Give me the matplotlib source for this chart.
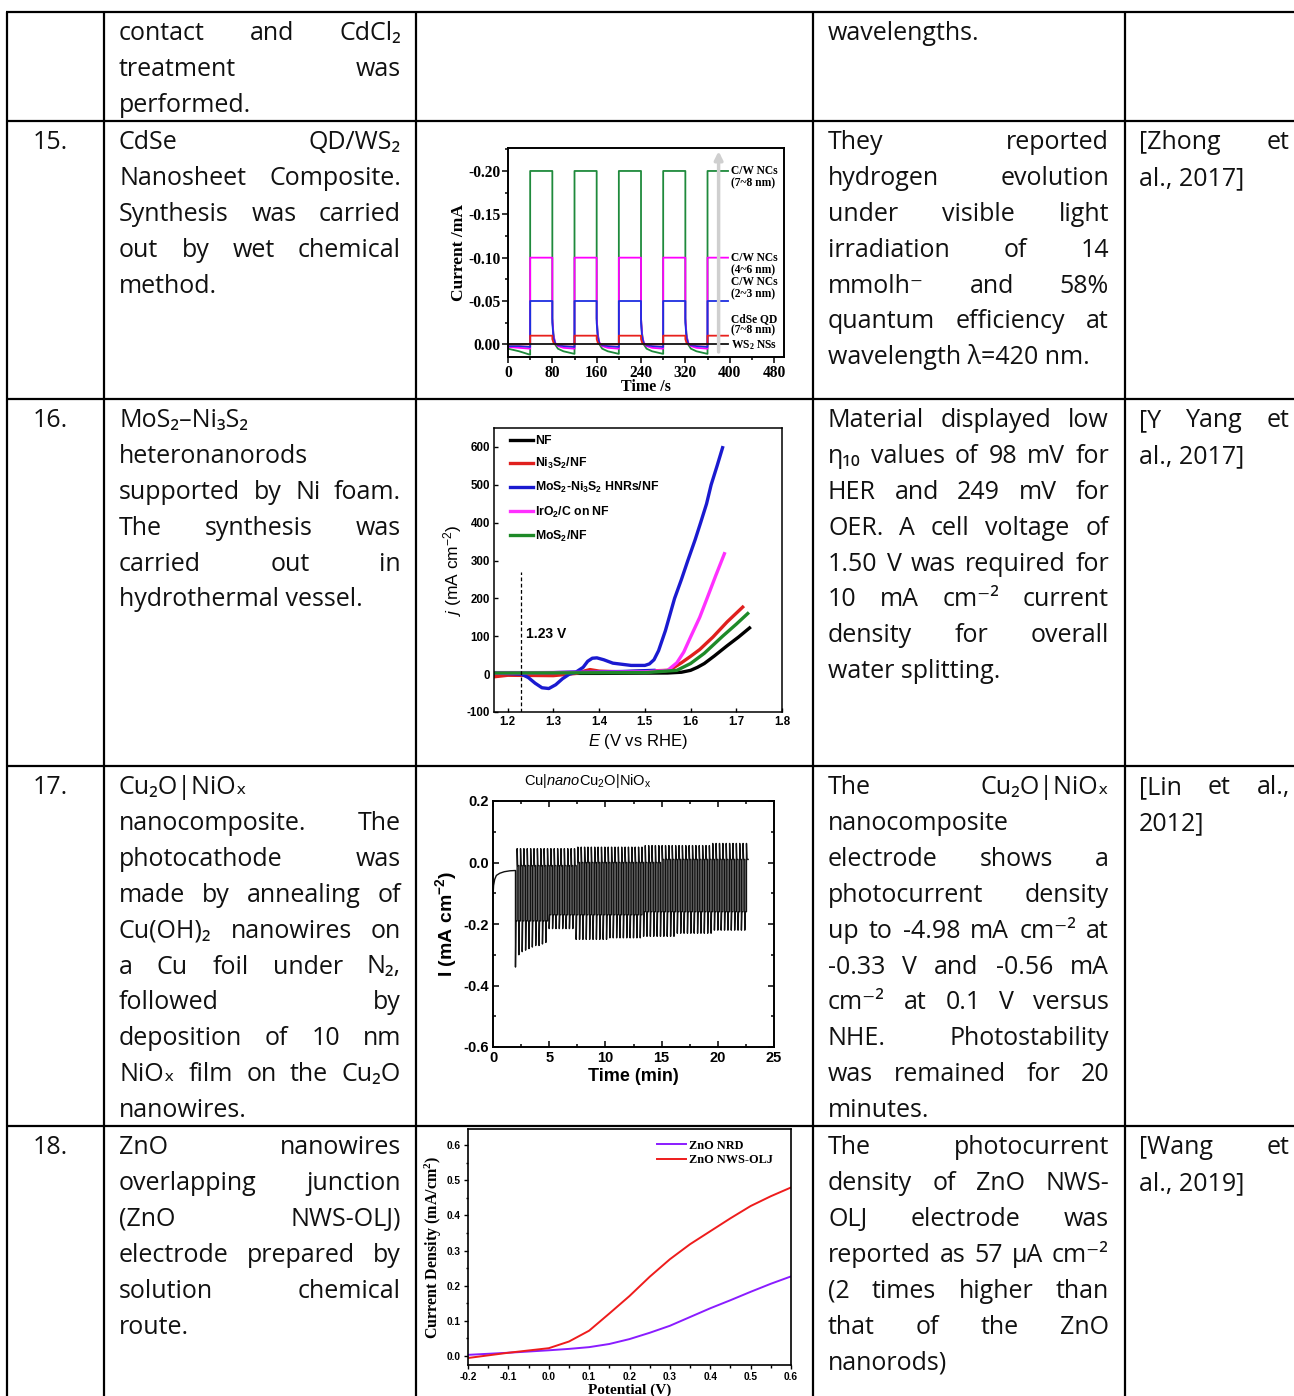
import numpy as np
import matplotlib
matplotlib.use("Agg")
import matplotlib.pyplot as plt
from matplotlib.ticker import MultipleLocator, FormatStrFormatter

plt.rcParams['axes.unicode_minus'] = False
plt.rcParams['mathtext.fontset'] = 'custom'
plt.rcParams['mathtext.rm'] = 'Liberation Sans'
plt.rcParams['mathtext.it'] = 'Liberation Sans:italic'
plt.rcParams['mathtext.bf'] = 'Liberation Sans:bold'
plt.rcParams['mathtext.default'] = 'regular'

# ---------------- table text ----------------
row_nums = ['', '15.', '16.', '17.', '18.']
materials = [
    ['contact and CdCl₂', 'treatment was', 'performed.'],
    ['CdSe QD/WS₂', 'Nanosheet Composite.', 'Synthesis was carried',
     'out by wet chemical', 'method.'],
    ['MoS₂–Ni₃S₂', 'heteronanorods', 'supported by Ni foam.',
     'The synthesis was', 'carried out in', 'hydrothermal vessel.'],
    ['Cu₂O|NiOₓ', 'nanocomposite. The', 'photocathode was',
     'made by annealing of', 'Cu(OH)₂ nanowires on', 'a Cu foil under N₂,',
     'followed by', 'deposition of 10 nm', 'NiOₓ film on the Cu₂O', 'nanowires.'],
    ['ZnO nanowires', 'overlapping junction', '(ZnO NWS-OLJ)', 'electrode prepared by',
     'solution chemical', 'route.'],
]
findings = [
    ['wavelengths.'],
    ['They reported', 'hydrogen evolution', 'under visible light', 'irradiation of 14',
     'mmolh⁻ and 58%', 'quantum efficiency at', 'wavelength λ=420 nm.'],
    ['Material displayed low', 'η₁₀ values of 98 mV for', 'HER and 249 mV for',
     'OER. A cell voltage of', '1.50 V was required for', '10 mA cm⁻² current',
     'density for overall', 'water splitting.'],
    ['The Cu₂O|NiOₓ', 'nanocomposite', 'electrode shows a', 'photocurrent density',
     'up to -4.98 mA cm⁻² at', '-0.33 V and -0.56 mA', 'cm⁻² at 0.1 V versus',
     'NHE. Photostability', 'was remained for 20', 'minutes.'],
    ['The photocurrent', 'density of ZnO NWS-', 'OLJ electrode was',
     'reported as 57 µA cm⁻²', '(2 times higher than', 'that of the ZnO', 'nanorods)'],
]
refs = [[], ['[Zhong et', 'al., 2017]'], ['[Y Yang et', 'al., 2017]'],
        ['[Lin et al.,', '2012]'], ['[Wang et', 'al., 2019]']]

# ---------------- chart 15: CdSe QD/WS2 chopped current ----------------
cd_on = [40, 120, 200, 280, 360]
cd_off = [80, 160, 240, 320, 397]
cd_start_t = [0, 20, 40]
cd_tail_dt = [0, 2, 5, 10, 20, 40]
cd_names = ['C/W NCs\n(7~8 nm)', 'C/W NCs\n(4~6 nm)', 'C/W NCs\n(2~3 nm)',
            'CdSe QD\n(7~8 nm)', 'WS$_2$ NSs']
cd_colors = ['#1f8a3c', '#ff00ff', '#1c2ee0', '#e8201c', '#111111']
cd_level_on = [-0.20, -0.10, -0.05, -0.01, 0.0]
cd_start = [[0.005, 0.008, 0.012], [0.003, 0.004, 0.005], [0.002, 0.002, 0.003],
            [0.0, 0.0, 0.0], [0.0, 0.0, 0.0]]
cd_tail = [[-0.03, -0.012, 0.0, 0.005, 0.008, 0.011],
           [-0.03, -0.01, -0.002, 0.002, 0.004, 0.005],
           [-0.025, -0.008, -0.001, 0.001, 0.002, 0.003],
           [-0.006, -0.002, 0.0, 0.0, 0.0, 0.0],
           [0.0, 0.0, 0.0, 0.0, 0.0, 0.0]]
cd_label_y = [-0.200, -0.100, -0.072, -0.030, -0.001]

# ---------------- chart 16: MoS2-Ni3S2 polarisation ----------------
nf_E = [1.17, 1.40, 1.55, 1.58, 1.60, 1.615, 1.63, 1.652, 1.68, 1.705, 1.729]
nf_j = [2, 2, 3, 5, 10, 18, 28, 48, 75, 98, 122]
ni_E = [1.17, 1.20, 1.30, 1.35, 1.37, 1.38, 1.40, 1.45, 1.55, 1.56, 1.58, 1.60, 1.62,
        1.649, 1.68, 1.714]
ni_j = [-7, -3, -4, 2, 9, 12, 8, 6, 10, 15, 30, 47, 65, 98, 138, 177]
hnr_E = [1.17, 1.30, 1.35, 1.365, 1.375, 1.385, 1.395, 1.41, 1.43, 1.47, 1.50, 1.51,
         1.52, 1.53, 1.545, 1.565, 1.58, 1.594, 1.61, 1.622, 1.635, 1.645, 1.658, 1.67]
hnr_j = [4, 4, 6, 18, 34, 42, 43, 38, 29, 23, 23, 27, 38, 62, 115, 200, 250, 300, 355,
         400, 450, 500, 550, 598]
hnr_back_E = [1.52, 1.45, 1.40, 1.35, 1.335, 1.32, 1.305, 1.29, 1.275, 1.26, 1.245, 1.23, 1.17]
hnr_back_j = [10, 7, 6, 5, 0, -12, -28, -38, -36, -24, -9, 0, 3]
iro_E = [1.17, 1.50, 1.55, 1.57, 1.585, 1.60, 1.62, 1.636, 1.655, 1.674]
iro_j = [3, 6, 10, 30, 58, 98, 150, 200, 260, 318]
mos_E = [1.17, 1.50, 1.57, 1.60, 1.63, 1.67, 1.70, 1.725]
mos_j = [3, 4, 10, 28, 55, 100, 132, 160]

# ---------------- chart 17: Cu|nanoCu2O|NiOx chopped photocurrent ----------------
cu_t0 = [0.0, 0.05, 0.15, 0.3, 0.6, 1.0, 1.5, 2.0]
cu_i0 = [-0.11, -0.075, -0.055, -0.042, -0.035, -0.03, -0.027, -0.026]
cu_chop_start = 2.0
cu_chop_period = 0.3
cu_down = ([-0.34, -0.30, -0.29, -0.285, -0.28, -0.275, -0.27, -0.27, -0.265, -0.26]
           + [-0.215] * 8 + [-0.25] * 10 + [-0.245] * 10 + [-0.24] * 10
           + [-0.23] * 11 + [-0.22] * 10)
cu_up = [0.045] * 18 + [0.05] * 20 + [0.055] * 20 + [0.062] * 11
cu_light = [-0.19] * 10 + [-0.17] * 28 + [-0.16] * 31
cu_dark = [-0.01] * 18 + [0.0] * 25 + [0.01] * 26

# ---------------- chart 18: ZnO LSV ----------------
zn_V = [-0.2, -0.1, 0.0, 0.05, 0.1, 0.15, 0.2, 0.25, 0.3, 0.35, 0.4, 0.45, 0.5, 0.55, 0.6]
nrd_j = [0.002, 0.008, 0.015, 0.019, 0.024, 0.033, 0.047, 0.065, 0.085, 0.11,
         0.135, 0.158, 0.182, 0.205, 0.226]
olj_j = [-0.007, 0.008, 0.021, 0.04, 0.071, 0.12, 0.17, 0.225, 0.275, 0.318,
         0.355, 0.392, 0.427, 0.455, 0.48]

W, H = 1294, 1396
fig = plt.figure(figsize=(W / 100, H / 100), dpi=100)
tab = fig.add_axes([0, 0, 1, 1])
tab.set_xlim(0, W)
tab.set_ylim(H, 0)
tab.axis('off')
rend = fig.canvas.get_renderer()

col_x = [7, 104, 416, 813, 1125]
row_y = [12, 121, 399, 766, 1126]
for x in col_x:
    tab.plot([x, x], [12, H], color='k', lw=1.6, solid_capstyle='butt')
for y in row_y:
    tab.plot([6, W], [y, y], color='k', lw=1.6, solid_capstyle='butt')

tkw = dict(family=['Open Sans', 'DejaVu Sans'], fontsize=18, color='#111111', va='baseline')
LINE = 35.9


def put_lines(lines, x0, x1, top):
    for i, s in enumerate(lines):
        y = top + 28 + i * LINE
        words = s.split(' ')
        if i == len(lines) - 1 or len(words) == 1:
            tab.text(x0, y, s, **tkw)
            continue
        objs = [tab.text(x0, y, w, **tkw) for w in words]
        ws = [o.get_window_extent(renderer=rend).width for o in objs]
        gap = (x1 - x0 - sum(ws)) / (len(words) - 1)
        x = x0
        for o, w in zip(objs, ws):
            o.set_x(x)
            x += w + gap


for r in range(5):
    top = row_y[r]
    if row_nums[r]:
        tab.text(33, top + 28, row_nums[r], **tkw)
    put_lines(materials[r], 119, 401, top)
    put_lines(findings[r], 828, 1109, top)
    if refs[r]:
        put_lines(refs[r], 1139, 1290, top)


def inset(x0, y0, x1, y1):
    return fig.add_axes([x0 / W, 1 - y1 / H, (x1 - x0) / W, (y1 - y0) / H])


def style_ticks(ax, family, size, weight='bold'):
    for lab in ax.get_xticklabels() + ax.get_yticklabels():
        lab.set_family(family)
        lab.set_fontsize(size)
        lab.set_fontweight(weight)


# chart 15
ax1 = inset(508, 148, 784, 357)
for k in range(5):
    t = list(cd_start_t)
    v = list(cd_start[k])
    for c in range(len(cd_on)):
        t += [cd_on[c], cd_off[c]]
        v += [cd_level_on[k], cd_level_on[k]]
        if c < len(cd_on) - 1:
            t += [cd_off[c] + d for d in cd_tail_dt]
            v += cd_tail[k]
    ax1.plot(t, v, color=cd_colors[k], lw=1.3)
    ax1.text(403, cd_label_y[k] - 0.0065, cd_names[k], family='Liberation Serif',
             fontweight='bold', fontsize=8.3, va='top', ha='left', linespacing=1.0)
ax1.annotate('', xy=(380, -0.226), xytext=(380, 0.012),
             arrowprops=dict(arrowstyle='-|>', color='#cfcfcf', lw=2.5, mutation_scale=12))
ax1.set_xlim(0, 498)
ax1.set_ylim(0.0146, -0.2265)
ax1.set_xticks([0, 80, 160, 240, 320, 400, 480])
ax1.set_yticks([-0.20, -0.15, -0.10, -0.05, 0.0])
ax1.yaxis.set_major_formatter(FormatStrFormatter('%.2f'))
ax1.xaxis.set_minor_locator(MultipleLocator(40))
ax1.yaxis.set_minor_locator(MultipleLocator(0.025))
ax1.tick_params(which='both', direction='out', width=1.1)
ax1.tick_params(which='major', length=4, pad=1.5)
ax1.tick_params(which='minor', length=2)
style_ticks(ax1, 'Liberation Serif', 11.2)
ax1.set_xlabel('Time /s', family='Liberation Serif', fontweight='bold', fontsize=11.5, labelpad=-1)
ax1.set_ylabel('Current /mA', family='Liberation Serif', fontweight='bold', fontsize=12.5, labelpad=1)
for sp in ax1.spines.values():
    sp.set_linewidth(1.4)

# chart 16
ax2 = inset(494, 428, 782, 712)
ax2.plot(nf_E, nf_j, color='#000000', lw=2.4, label='NF')
ax2.plot(ni_E, ni_j, color='#e0201e', lw=2.4, label='Ni$_3$S$_2$/NF')
ax2.plot(hnr_E, hnr_j, color='#1a1ad0', lw=2.4, label='MoS$_2$-Ni$_3$S$_2$ HNRs/NF')
ax2.plot(hnr_back_E, hnr_back_j, color='#1a1ad0', lw=2.4)
ax2.plot(iro_E, iro_j, color='#ff30ff', lw=2.4, label='IrO$_2$/C on NF')
ax2.plot(mos_E, mos_j, color='#1e8a28', lw=2.4, label='MoS$_2$/NF')
ax2.plot([1.23, 1.23], [-100, 270], color='k', lw=0.9, ls=(0, (3, 2)))
ax2.text(1.24, 107, '1.23 V', family='Liberation Sans', fontweight='bold', fontsize=10, va='center')
ax2.set_xlim(1.17, 1.8)
ax2.set_ylim(-100, 650)
ax2.set_xticks([1.2, 1.3, 1.4, 1.5, 1.6, 1.7, 1.8])
ax2.set_yticks([-100, 0, 100, 200, 300, 400, 500, 600])
ax2.tick_params(direction='in', length=3, width=1, pad=3)
style_ticks(ax2, 'Liberation Sans', 8.3)
ax2.set_xlabel(r'$\mathit{E}$ (V vs RHE)', family='Liberation Sans', fontsize=12, labelpad=3)
ax2.set_ylabel(r'$\mathit{j}$ (mA cm$^{-2}$)', family='Liberation Sans', fontsize=12.5, labelpad=2)
leg = ax2.legend(loc='upper left', bbox_to_anchor=(0.055, 0.975), frameon=False,
                 prop=dict(family='Liberation Sans', weight='bold', size=8.8),
                 handlelength=1.9, handletextpad=0.15, labelspacing=0.74, borderpad=0,
                 borderaxespad=0)
for sp in ax2.spines.values():
    sp.set_linewidth(1.1)

# chart 17
ax3 = inset(493, 801, 774, 1047)
cu_t = list(cu_t0)
cu_i = list(cu_i0)
for n in range(len(cu_down)):
    t0 = cu_chop_start + n * cu_chop_period
    h = cu_chop_period / 2
    cu_t += [t0, t0 + 0.04, t0 + h, t0 + h, t0 + h + 0.04, t0 + 2 * h]
    cu_i += [cu_down[n], cu_light[n], cu_light[n], cu_up[n], cu_dark[n], cu_dark[n]]
ax3.plot(cu_t, cu_i, color='#111111', lw=1.0)
ax3.set_xlim(0, 25)
ax3.set_ylim(-0.6, 0.2)
ax3.set_xticks([0, 5, 10, 15, 20, 25])
ax3.set_yticks([-0.6, -0.4, -0.2, 0.0, 0.2])
ax3.yaxis.set_major_formatter(FormatStrFormatter('%.1f'))
ax3.xaxis.set_minor_locator(MultipleLocator(2.5))
ax3.yaxis.set_minor_locator(MultipleLocator(0.1))
ax3.tick_params(which='both', direction='in', top=True, right=True, width=1.1)
ax3.tick_params(which='major', length=4, pad=3)
ax3.tick_params(which='minor', length=2.5)
style_ticks(ax3, 'Liberation Sans', 10.5)
ax3.set_xlabel('Time (min)', family='Liberation Sans', fontweight='bold', fontsize=13, labelpad=2)
ax3.set_ylabel('I (mA cm$^{-2}$)', family='Liberation Sans', fontweight='bold', fontsize=14, labelpad=3)
for sp in ax3.spines.values():
    sp.set_linewidth(1.4)
tab.text(588, 781, r'Cu|$\mathit{nano}$Cu$_2$O|NiO$_x$', family='Liberation Sans',
         fontsize=10.5, ha='center', va='center')

# chart 18
ax4 = inset(468, 1129, 791, 1365)
ax4.plot(zn_V, nrd_j, color='#8a1cff', lw=1.4, label='ZnO NRD')
ax4.plot(zn_V, olj_j, color='#ee1c1c', lw=1.4, label='ZnO NWS-OLJ')
ax4.set_xlim(-0.2, 0.6)
ax4.set_ylim(-0.027, 0.647)
ax4.set_xticks([-0.2, -0.1, 0.0, 0.1, 0.2, 0.3, 0.4, 0.5, 0.6])
ax4.set_yticks([0.0, 0.1, 0.2, 0.3, 0.4, 0.5, 0.6])
ax4.xaxis.set_major_formatter(FormatStrFormatter('%.1f'))
ax4.yaxis.set_major_formatter(FormatStrFormatter('%.1f'))
ax4.xaxis.set_minor_locator(MultipleLocator(0.05))
ax4.yaxis.set_minor_locator(MultipleLocator(0.05))
ax4.tick_params(which='both', direction='out', width=1)
ax4.tick_params(which='major', length=3, pad=2)
ax4.tick_params(which='minor', length=1.8)
style_ticks(ax4, 'Liberation Sans', 7.3)
ax4.set_xlabel('Potential (V)', family='Liberation Serif', fontweight='bold', fontsize=11, labelpad=1)
ax4.set_ylabel('Current Density (mA/cm$^2$)', family='Liberation Serif', fontweight='bold',
               fontsize=11.5, labelpad=2)
ax4.legend(loc='upper left', bbox_to_anchor=(0.585, 0.955), frameon=False,
           prop=dict(family='Liberation Serif', weight='bold', size=8.8),
           handlelength=2.4, handletextpad=0.2, labelspacing=0.2, borderpad=0, borderaxespad=0)
for sp in ax4.spines.values():
    sp.set_linewidth(1.2)

fig.savefig('out.png', dpi=100)
